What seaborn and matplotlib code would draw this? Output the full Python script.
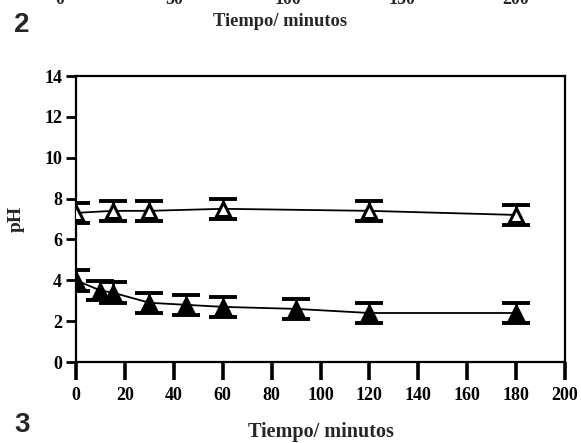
import numpy as np
import pandas as pd
import matplotlib
matplotlib.use("Agg")
import matplotlib.pyplot as plt
import seaborn as sns

# valores
tiempo_abierto = [0, 15, 30, 60, 120, 180]
ph_abierto = [7.3, 7.4, 7.4, 7.5, 7.4, 7.2]
err_abierto = [0.5, 0.5, 0.5, 0.5, 0.5, 0.5]

tiempo_lleno = [0, 10, 15, 30, 45, 60, 90, 120, 180]
ph_lleno = [4.0, 3.5, 3.4, 2.9, 2.8, 2.7, 2.6, 2.4, 2.4]
err_lleno = [0.5, 0.45, 0.5, 0.5, 0.5, 0.5, 0.5, 0.5, 0.5]

xticks = [0, 20, 40, 60, 80, 100, 120, 140, 160, 180, 200]
yticks = [0, 2, 4, 6, 8, 10, 12, 14]
ticks_arriba = ["0", "50", "100", "150", "200"]

sns.set_theme(style="ticks")
plt.rcParams["font.family"] = ["Liberation Serif", "DejaVu Serif"]
plt.rcParams["font.weight"] = "bold"

df_a = pd.DataFrame({"t": tiempo_abierto, "ph": ph_abierto})
df_l = pd.DataFrame({"t": tiempo_lleno, "ph": ph_lleno})

fig = plt.figure(figsize=(5.81, 4.43), dpi=100)
ax = fig.add_axes([0.1308, 0.1828, 0.8417, 0.6456])

for df, err, fc in [(df_a, err_abierto, "white"), (df_l, err_lleno, "black")]:
    sns.lineplot(data=df, x="t", y="ph", ax=ax, color="black", lw=1.3, zorder=2)
    ax.errorbar(df["t"], df["ph"], yerr=err, fmt="none", ecolor="black",
                elinewidth=2, capsize=10, capthick=2.8, zorder=3)
    ax.plot(df["t"], df["ph"], ls="none", marker="^", ms=10, mfc=fc,
            mec="black", mew=2.2, zorder=4)

ax.set_xlim(0, 200)
ax.set_ylim(0, 14)
ax.set_xticks(xticks)
ax.set_yticks(yticks)
for s in ax.spines.values():
    s.set_color("black")
    s.set_linewidth(1.6)
ax.tick_params(axis="x", direction="out", length=13, width=2.6, labelsize=13,
               pad=5, colors="black")
ax.tick_params(axis="y", direction="out", length=7, width=2, labelsize=13,
               pad=3, colors="black")
for lab in ax.get_xticklabels() + ax.get_yticklabels():
    lab.set_fontweight("bold")

ax.set_xlabel("Tiempo/ minutos", fontsize=14.5, fontweight="bold", labelpad=13)
ax.set_ylabel("pH", fontsize=14, fontweight="bold", labelpad=14)

# restos del gráfico anterior (recortado arriba)
for i, t in enumerate(ticks_arriba):
    fig.text((60 + i * 114) / 581, 1.0 + 0.002, t, ha="center", va="center",
             fontsize=13, fontweight="bold")
fig.text(280 / 581, 1 - 22 / 443, "Tiempo/ minutos", ha="center", va="center",
         fontsize=13.3, fontweight="bold")
fig.text(22 / 581, 1 - 25 / 443, "2", ha="center", va="center", fontsize=20,
         fontweight="bold", family=["Liberation Sans", "DejaVu Sans"])
fig.text(22 / 581, 1 - 425 / 443, "3", ha="center", va="center", fontsize=20,
         fontweight="bold", family=["Liberation Sans", "DejaVu Sans"])

fig.savefig("out.png", dpi=100)
